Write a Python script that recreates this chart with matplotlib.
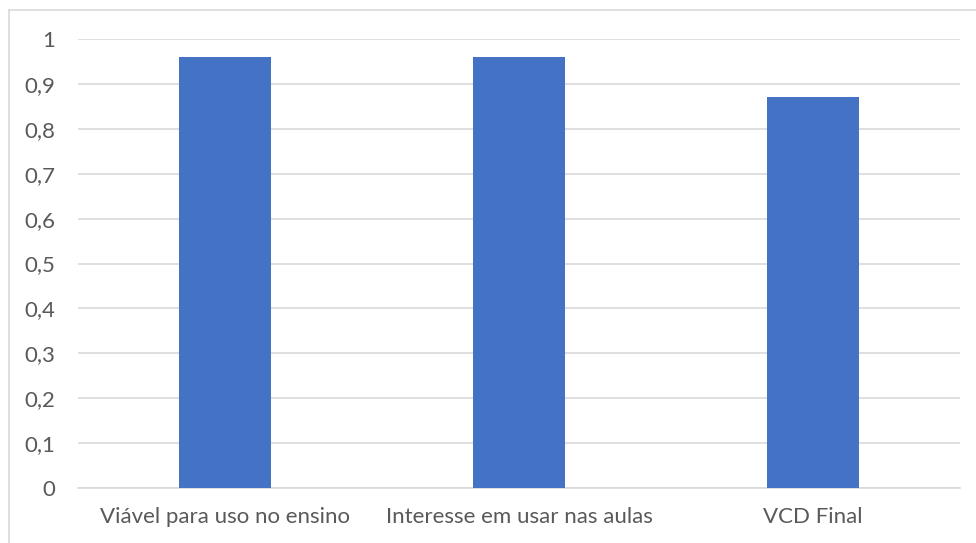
import matplotlib
matplotlib.use("Agg")
import matplotlib.pyplot as plt
from matplotlib.lines import Line2D

categories = ["Viável para uso no ensino", "Interesse em usar nas aulas", "VCD Final"]
values = [0.96, 0.96, 0.87]
yticks = [0, 0.1, 0.2, 0.3, 0.4, 0.5, 0.6, 0.7, 0.8, 0.9, 1]
ytick_labels = ["0", "0,1", "0,2", "0,3", "0,4", "0,5", "0,6", "0,7", "0,8", "0,9", "1"]

W, H = 976, 543
fig = plt.figure(figsize=(W / 100, H / 100), dpi=100)
plt.rcParams['font.family'] = ['Lato', 'DejaVu Sans']

# plot area in pixels: x 78..960, y 39 (value 1) .. 488 (value 0)
x0, x1 = 78, 960
y_top, y_bot = 39, 488
ax = fig.add_axes([x0 / W, 1 - y_bot / H, (x1 - x0) / W, (y_bot - y_top) / H])

pos = list(range(len(categories)))
ax.bar(pos, values, width=0.31, color="#4472C4", zorder=3)
ax.set_xlim(-0.5, len(categories) - 0.5)
ax.set_ylim(0, 1)
ax.set_yticks(yticks)
ax.set_yticklabels(ytick_labels)
ax.set_xticks(pos)
ax.set_xticklabels(categories)
ax.tick_params(axis="both", length=0, labelsize=16, colors="#595959")
ax.tick_params(axis="y", pad=16.5)
ax.tick_params(axis="x", pad=14)
ax.grid(axis="y", color="#D9D9D9", linewidth=1.2, zorder=0)
for s in ["top", "right", "left"]:
    ax.spines[s].set_visible(False)
ax.spines["bottom"].set_color("#D9D9D9")
ax.spines["bottom"].set_linewidth(1.2)

# chart border (left and top visible)
fig.add_artist(Line2D([8.5 / W, 8.5 / W], [0, 1 - 10 / H], color="#D9D9D9", linewidth=1.2))
fig.add_artist(Line2D([8.5 / W, 1], [1 - 10 / H, 1 - 10 / H], color="#D9D9D9", linewidth=1.2))

fig.savefig("out.png", dpi=100)
